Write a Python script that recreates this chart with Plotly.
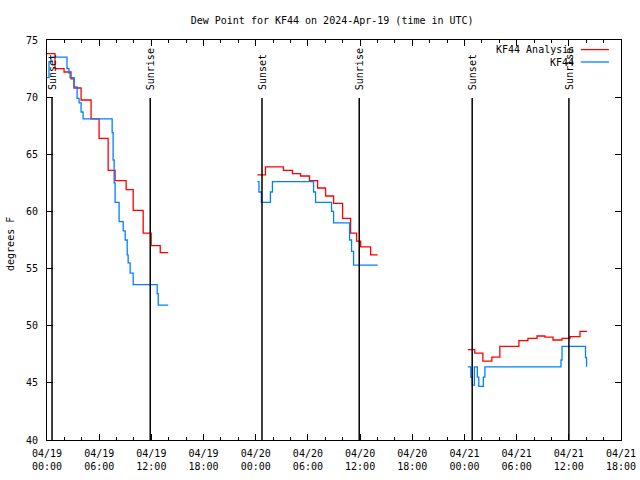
import pandas as pd
import plotly.graph_objects as go

START = pd.Timestamp("2024-04-19 00:00")

# Hours since 2024-04-19 00:00 UTC and dew point (F); segments separated by None
analysis_hours = [0.00, 0.92, 1.96, 2.76, 3.11, 3.92, 5.07, 5.99, 7.03, 7.83, 9.10, 9.91, 11.06, 11.98, 13.02, 13.94, None,
                  24.19, 25.12, 27.19, 28.23, 29.15, 30.18, 31.11, 32.03, 32.95, 33.99, 34.91, 35.60, 36.06, 37.21, 38.02, None,
                  48.39, 49.19, 50.12, 51.15, 52.07, 54.26, 55.30, 56.34, 57.26, 58.18, 59.22, 60.14, 61.29, 62.10]
analysis_vals = [73.8, 72.5, 72.2, 71.6, 70.8, 69.75, 68.1, 66.4, 63.6, 62.7, 61.9, 60.1, 58.1, 57.0, 56.4, 56.4, None,
                 63.2, 63.9, 63.6, 63.3, 63.1, 62.7, 62.05, 61.35, 60.7, 59.4, 58.1, 57.4, 56.9, 56.2, 56.2, None,
                 47.9, 47.6, 46.9, 47.25, 48.2, 48.7, 48.9, 49.1, 49.0, 48.75, 48.9, 49.05, 49.5, 49.5]

obs_hours = [0.00, 0.23, 0.46, 2.30, 2.53, 2.65, 3.11, 3.46, 3.69, 3.92, 4.15, 7.49, 7.60, 7.72, 7.83, 8.29, 8.76, 8.99,
             9.22, 9.33, 9.56, 9.91, 12.67, 12.79, 13.94, None,
             24.19, 24.37, 24.65, 25.69, 25.92, 30.65, 30.88, 32.72, 32.95, 34.79, 35.02, 35.25, 38.02, None,
             48.39, 48.73, 48.91, 49.14, 49.48, 49.65, 50.17, 50.35, 59.10, 59.22, 61.75, 61.92, 62.04]
obs_vals = [71.7, 73.1, 73.5, 72.5, 72.1, 71.7, 70.9, 69.9, 69.5, 68.7, 68.1, 66.9, 64.5, 62.5, 60.8, 59.1, 58.3, 57.5,
            56.2, 55.5, 54.6, 53.6, 52.8, 51.8, 51.8, None,
            62.6, 61.7, 60.8, 61.7, 62.6, 61.7, 60.8, 60.0, 59.0, 57.5, 56.5, 55.3, 55.3, None,
            46.4, 45.5, 44.8, 46.4, 45.5, 44.7, 45.5, 46.4, 47.0, 48.2, 48.2, 47.2, 46.4]

sun_event_hours = [0.58, 11.87, 24.72, 35.90, 48.89, 60.01]
sun_event_names = ["Sunset", "Sunrise", "Sunset", "Sunrise", "Sunset", "Sunrise"]

tick_hours = [0, 6, 12, 18, 24, 30, 36, 42, 48, 54, 60, 66]
tick_labels = ["04/19<br>00:00", "04/19<br>06:00", "04/19<br>12:00", "04/19<br>18:00",
               "04/20<br>00:00", "04/20<br>06:00", "04/20<br>12:00", "04/20<br>18:00",
               "04/21<br>00:00", "04/21<br>06:00", "04/21<br>12:00", "04/21<br>18:00"]

series_names = ["KF44 Analysis", "KF44"]
series_colors = ["#ff0000", "#0080ff"]


def to_time(hours):
    return [None if h is None else START + pd.Timedelta(hours=h) for h in hours]


FONT = "DejaVu Sans Mono"
fig = go.Figure()
fig.add_trace(go.Scatter(x=to_time(analysis_hours), y=analysis_vals, mode="lines", line_shape="hv",
                         line=dict(color=series_colors[0], width=1.3), name=series_names[0], connectgaps=False,
                         cliponaxis=False))
fig.add_trace(go.Scatter(x=to_time(obs_hours), y=obs_vals, mode="lines", line_shape="hv",
                         line=dict(color=series_colors[1], width=1.3), name=series_names[1], connectgaps=False,
                         cliponaxis=False))

for h, name in zip(sun_event_hours, sun_event_names):
    t = START + pd.Timedelta(hours=h)
    fig.add_shape(type="line", xref="x", yref="paper", x0=t, x1=t, y0=0, y1=0.855,
                  line=dict(color="black", width=1.5))
    fig.add_annotation(x=t, xref="x", y=0.87, yref="paper", text=name, textangle=-90,
                       showarrow=False, xanchor="center", yanchor="bottom",
                       font=dict(family=FONT, size=10, color="black"))

# gnuplot-style key: text right-aligned, line sample to the right
for i, (nm, col) in enumerate(zip(series_names, series_colors)):
    yp = 0.976 - i * 0.031
    fig.add_annotation(x=0.922, xref="paper", y=yp, yref="paper", text=nm, showarrow=False,
                       xanchor="right", yanchor="middle", font=dict(family=FONT, size=10, color="black"))
    fig.add_shape(type="line", xref="paper", yref="paper", x0=0.930, x1=0.979, y0=yp, y1=yp,
                  line=dict(color=col, width=1.3))

fig.add_annotation(x=-0.0645, xref="paper", y=0.49, yref="paper", text="degrees F", textangle=-90,
                   showarrow=False, xanchor="center", yanchor="middle",
                   font=dict(family=FONT, size=10, color="black"))

fig.update_layout(
    width=640, height=480,
    margin=dict(l=47, r=19, t=40, b=40, autoexpand=False),
    paper_bgcolor="white", plot_bgcolor="white",
    showlegend=False,
    title=dict(text="Dew Point for KF44 on 2024-Apr-19 (time in UTC)", x=0.519, xanchor="center",
               y=0.958, yanchor="middle", font=dict(family=FONT, size=10, color="black")),
    font=dict(family=FONT, size=10, color="black"),
)
fig.update_xaxes(
    range=[START, START + pd.Timedelta(hours=66)],
    tickmode="array", tickvals=to_time(tick_hours), ticktext=tick_labels,
    ticks="inside", ticklen=6, tickcolor="black", tickwidth=1,
    minor=dict(dtick=7200000, tick0=START, ticks="inside", ticklen=3, tickcolor="black", showgrid=False),
    showline=True, linecolor="black", linewidth=1, mirror="allticks",
    showgrid=False, zeroline=False, ticklabelstandoff=4, automargin=False,
    ticklabeloverflow="allow",
)
fig.update_yaxes(
    range=[40, 75], tickmode="linear", tick0=40, dtick=5,
    ticks="inside", ticklen=6, tickcolor="black", tickwidth=1,
    showline=True, linecolor="black", linewidth=1, mirror="allticks",
    showgrid=False, zeroline=False, ticklabelstandoff=6, automargin=False,
)

fig.write_html("out.html", config={"displayModeBar": False},
               post_script="document.body.style.margin='0';document.body.style.overflow='hidden';")
